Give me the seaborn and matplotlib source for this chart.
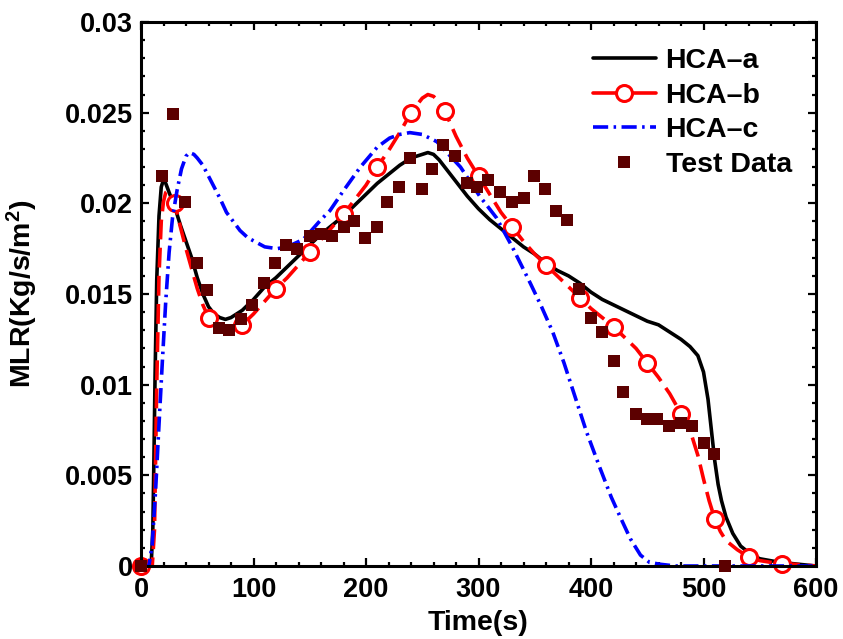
import numpy as np
import pandas as pd
import matplotlib
matplotlib.use("Agg")
import matplotlib.pyplot as plt
from matplotlib.lines import Line2D
from matplotlib.ticker import MultipleLocator, FuncFormatter
import seaborn as sns

# ---------------- data ----------------
black_t = [0, 9, 10.5, 11.5, 12.5, 14, 16, 18, 20, 22, 25, 30, 35, 40, 45, 50, 55, 60, 65, 70,
           75, 80, 90, 100, 110, 120, 130, 140, 150, 160, 170, 180, 190, 200, 210, 220, 230, 240,
           250, 255, 260, 265, 270, 280, 290, 300, 310, 320, 330, 340, 350, 360, 370, 380, 390,
           400, 410, 420, 430, 440, 450, 460, 470, 480, 488, 495, 500, 504, 507, 510, 513, 516,
           520, 526, 533, 541, 550, 568, 600]
black_y = [0, 0, 0.002, 0.006, 0.0105, 0.0158, 0.0193, 0.0209, 0.0213, 0.0211, 0.0206, 0.0198,
           0.0188, 0.0179, 0.0170, 0.0159, 0.0150, 0.0143, 0.0139, 0.0137, 0.0136, 0.0137, 0.0141,
           0.0147, 0.0154, 0.0159, 0.0165, 0.0171, 0.0177, 0.0183, 0.0188, 0.0193, 0.0199, 0.0205,
           0.0211, 0.0216, 0.0221, 0.0225, 0.0227, 0.0228, 0.0227, 0.0224, 0.0220, 0.0212, 0.0204,
           0.0197, 0.0191, 0.0186, 0.0181, 0.0176, 0.0172, 0.0167, 0.0163, 0.0160, 0.0156, 0.0151,
           0.0147, 0.0144, 0.0141, 0.0138, 0.0135, 0.0133, 0.0129, 0.0125, 0.0121, 0.0116, 0.0107,
           0.0092, 0.0075, 0.0058, 0.0045, 0.0036, 0.0027, 0.0018, 0.0011, 0.0007, 0.0004, 0.0002,
           0.0]

red_t = [0, 10, 12, 14, 16, 18, 20, 22, 24, 27, 30, 35, 40, 45, 50, 55, 60, 65, 70, 75, 80, 90,
         100, 110, 120, 130, 140, 150, 160, 170, 180, 190, 200, 210, 220, 230, 240, 250, 255, 260,
         265, 270, 280, 290, 300, 310, 320, 330, 340, 350, 360, 370, 380, 390, 400, 410, 420, 430,
         440, 450, 460, 470, 480, 490, 495, 500, 505, 510, 515, 520, 530, 540, 550, 560, 570, 580,
         600]
red_y = [0, 0, 0.002, 0.010, 0.016, 0.0190, 0.0201, 0.0206, 0.0207, 0.0204, 0.0200, 0.0187,
         0.0175, 0.0164, 0.0153, 0.0144, 0.0137, 0.0134, 0.0132, 0.0131, 0.0131, 0.0133, 0.0139,
         0.0146, 0.0153, 0.0159, 0.0166, 0.0173, 0.0180, 0.0187, 0.0194, 0.0202, 0.0210, 0.0220,
         0.0229, 0.0239, 0.0250, 0.0258, 0.0260, 0.0259, 0.0256, 0.0251, 0.0237, 0.0225, 0.0215,
         0.0205, 0.0195, 0.0187, 0.0179, 0.0172, 0.0166, 0.0160, 0.0154, 0.0148, 0.0142, 0.0137,
         0.0132, 0.0126, 0.0120, 0.0112, 0.0104, 0.0095, 0.0084, 0.0071, 0.0061, 0.0048, 0.0036,
         0.0026, 0.0019, 0.0014, 0.0009, 0.0005, 0.0003, 0.0002, 0.0001, 0.0001, 0.0]

blue_t = [0, 7, 10, 13, 16, 19, 22, 25, 28, 32, 36, 40, 43, 47, 50, 55, 60, 65, 70, 76, 82, 88,
          95, 101, 110, 121, 130, 137, 144, 150, 160, 168, 180, 195, 210, 221, 230, 239, 250, 263,
          275, 284, 301, 316, 330, 346, 356, 366, 376, 386, 396, 408, 418, 426, 435, 444, 452,
          461, 475, 600]
blue_y = [0, 0, 0.0012, 0.0042, 0.0078, 0.0113, 0.0146, 0.0173, 0.0192, 0.0207, 0.0219, 0.0226,
          0.0228, 0.0227, 0.0225, 0.0221, 0.0215, 0.0209, 0.0203, 0.0195, 0.0190, 0.0185, 0.0181,
          0.0179, 0.0176, 0.0175, 0.0176, 0.0178, 0.0180, 0.0184, 0.0191, 0.0196, 0.0207, 0.0220,
          0.0231, 0.0236, 0.0238, 0.0239, 0.0238, 0.0234, 0.0226, 0.0220, 0.0204, 0.0192, 0.0176,
          0.0156, 0.0143, 0.0129, 0.0112, 0.0093, 0.0074, 0.0054, 0.0038, 0.0027, 0.0015, 0.0006,
          0.0002, 0.0001, 0.0, 0.0]

test_t = [0, 19, 28, 39, 50, 59, 69, 78, 89, 99, 109, 119, 129, 139, 150, 160, 170, 180, 189,
          199, 210, 219, 229, 239, 250, 259, 268, 279, 290, 299, 308, 319, 330, 340, 349, 359,
          369, 379, 389, 400, 410, 420, 428, 440, 450, 459, 469, 480, 490, 500, 509, 519]
test_y = [0.0, 0.0215, 0.0249, 0.0201, 0.0167, 0.0152, 0.0131, 0.0130, 0.0136, 0.0144, 0.0156,
          0.0167, 0.0177, 0.0175, 0.0182, 0.0183, 0.0182, 0.0187, 0.0190, 0.0181, 0.0187, 0.0201,
          0.0209, 0.0225, 0.0208, 0.0219, 0.0232, 0.0226, 0.0211, 0.0209, 0.0213, 0.0206, 0.0201,
          0.0203, 0.0215, 0.0208, 0.0196, 0.0191, 0.0153, 0.0137, 0.0129, 0.0113, 0.0096, 0.0084,
          0.0081, 0.0081, 0.0077, 0.0079, 0.0077, 0.0068, 0.0062, 0.0]

labels = ["HCA\u2013a", "HCA\u2013b", "HCA\u2013c", "Test Data"]
x_ticks = [0, 100, 200, 300, 400, 500, 600]
y_ticks = [0, 0.005, 0.01, 0.015, 0.02, 0.025, 0.03]

# ---------------- style ----------------
sns.set_style("white")
plt.rcParams["font.family"] = ["Liberation Sans", "DejaVu Sans"]
plt.rcParams["font.weight"] = "bold"
plt.rcParams["text.color"] = "black"
plt.rcParams["axes.labelcolor"] = "black"
plt.rcParams["xtick.color"] = "black"
plt.rcParams["ytick.color"] = "black"
plt.rcParams["mathtext.fontset"] = "custom"
plt.rcParams["mathtext.rm"] = "Liberation Sans:bold"
plt.rcParams["mathtext.bf"] = "Liberation Sans:bold"
plt.rcParams["mathtext.it"] = "Liberation Sans:bold"

C_BLACK = "#000000"
C_RED = "#ff0000"
C_BLUE = "#0000ff"
C_TEST = "#5c0000"
LW = 2.6
RED_DASH = (0, (5.5, 2.3))
BLUE_DASH = (0, (4.2, 1.5, 0.7, 1.5))

fig = plt.figure(figsize=(8.43, 6.39), dpi=100)
ax = fig.add_axes([141 / 843, 1 - 566 / 639, 675 / 843, 544 / 639])

sns.lineplot(x=black_t, y=black_y, ax=ax, color=C_BLACK, lw=LW, estimator=None, sort=False,
             clip_on=False)
red_marks = [i for i, t in enumerate(red_t) if t % 30 == 0 and t < 600]
sns.lineplot(x=red_t, y=red_y, ax=ax, color=C_RED, lw=LW, linestyle=RED_DASH, estimator=None,
             sort=False, marker="o", markersize=11.5, markerfacecolor="white",
             markeredgecolor=C_RED, markeredgewidth=2.2, markevery=red_marks, clip_on=False)
sns.lineplot(x=blue_t, y=blue_y, ax=ax, color=C_BLUE, lw=LW, linestyle=BLUE_DASH, estimator=None,
             sort=False, clip_on=False)
sns.scatterplot(x=test_t, y=test_y, ax=ax, marker="s", s=64, color=C_TEST, linewidth=0,
                zorder=5, clip_on=False)

ax.set_xlim(0, 600)
ax.set_ylim(0, 0.03)
ax.set_xticks(x_ticks)
ax.set_yticks(y_ticks)
ax.xaxis.set_minor_locator(MultipleLocator(20))
ax.yaxis.set_minor_locator(MultipleLocator(0.001))
ax.yaxis.set_major_formatter(FuncFormatter(lambda v, p: f"{v:g}"))
ax.tick_params(which="both", direction="in", top=True, right=True, bottom=True, left=True,
               width=1.6, color="black")
ax.tick_params(which="major", length=6, labelsize=19.5)
ax.tick_params(axis="x", which="major", pad=8)
ax.tick_params(axis="y", which="major", pad=6)
ax.tick_params(which="minor", length=3)
for lab in ax.get_xticklabels() + ax.get_yticklabels():
    lab.set_fontweight("bold")
for sp in ax.spines.values():
    sp.set_visible(True)
    sp.set_linewidth(2.2)
    sp.set_color("black")

ax.set_xlabel("Time(s)", fontsize=20.5, fontweight="bold")
ax.set_ylabel("MLR(Kg/s/m$^\\mathbf{2}$)", fontsize=20.5, fontweight="bold")
ax.xaxis.set_label_coords(0.5, -0.08)
ax.yaxis.set_label_coords(-0.15, 0.5)

handles = [
    Line2D([], [], color=C_BLACK, lw=LW),
    Line2D([], [], color=C_RED, lw=LW, marker="o", markersize=11.5, markerfacecolor="white",
           markeredgecolor=C_RED, markeredgewidth=2.2),
    Line2D([], [], color=C_BLUE, lw=LW, linestyle=BLUE_DASH),
    Line2D([], [], color=C_TEST, lw=0, marker="s", markersize=8, markeredgewidth=0),
]
leg = ax.legend(handles, labels, loc="upper left", bbox_to_anchor=(593 / 843, 1 - 48 / 639),
                bbox_transform=fig.transFigure, frameon=False, fontsize=20.5, handlelength=2.2,
                handletextpad=0.35, labelspacing=0.3, borderpad=0, borderaxespad=0)
for t in leg.get_texts():
    t.set_fontweight("bold")

fig.savefig("out.png", dpi=100)
